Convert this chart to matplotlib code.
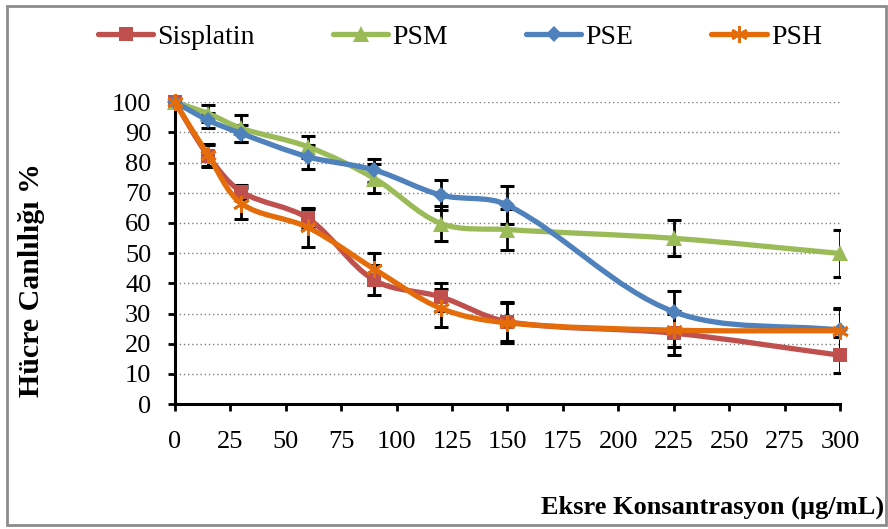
import numpy as np
import matplotlib
matplotlib.use("Agg")
import matplotlib.pyplot as plt
from matplotlib.path import Path
from matplotlib.patches import PathPatch, Rectangle
from matplotlib.lines import Line2D

plt.rcParams['font.family'] = ['Liberation Serif', 'DejaVu Serif']

# concentrations (ug/mL)
doses = [0, 15, 30, 60, 90, 120, 150, 225, 300]

# cell viability (%) and standard deviations
sisplatin = [100, 82.2, 70.3, 61.5, 41.0, 35.5, 27.3, 23.5, 16.2]
sisplatin_err = [0, 3.6, 2.4, 3.1, 5.0, 4.5, 6.5, 7.3, 6.0]
psm = [100, 96.2, 91.3, 85.2, 74.7, 59.8, 57.8, 54.9, 49.9]
psm_err = [0, 2.8, 4.4, 3.7, 4.9, 5.8, 6.8, 6.0, 7.9]
pse = [100, 94.0, 89.6, 81.9, 77.5, 69.2, 65.9, 30.6, 24.5]
pse_err = [0, 2.5, 2.8, 4.0, 3.8, 5.0, 6.2, 7.0, 7.2]
psh = [100, 82.4, 66.4, 58.5, 44.7, 31.7, 26.9, 24.5, 24.3]
psh_err = [0, 3.6, 5.1, 6.4, 5.4, 6.3, 6.6, 5.5, 7.3]

series = [
    ("Sisplatin", sisplatin, sisplatin_err, "#C0504D", "s", 10),
    ("PSM", psm, psm_err, "#9BBB59", "^", 11),
    ("PSE", pse, pse_err, "#4F81BD", "D", 8),
    ("PSH", psh, psh_err, "#E46C0A", (6, 2, 0), 12),
]

yticks = list(range(0, 101, 10))
xticks = list(range(0, 301, 25))


def smooth_path(x, y, sx=2.2, sy=3.0):
    # cubic bezier through the points; tangents scaled by segment length
    pts = np.column_stack([x, y]).astype(float)
    scale = np.array([sx, sy])
    n = len(pts)

    def dist(a, b):
        return np.hypot(*((b - a) * scale))

    verts = [pts[0]]
    codes = [Path.MOVETO]
    for i in range(n - 1):
        p0 = pts[i - 1] if i > 0 else pts[i]
        p1 = pts[i]
        p2 = pts[i + 1]
        p3 = pts[i + 2] if i + 2 < n else pts[i + 1]
        d01, d12, d23 = dist(p0, p1), dist(p1, p2), dist(p2, p3)
        w1 = d12 / (d01 + d12) if d01 + d12 > 0 else 0.5
        w2 = d12 / (d12 + d23) if d12 + d23 > 0 else 0.5
        c1 = p1 + (p2 - p0) * w1 / 3
        c2 = p2 - (p3 - p1) * w2 / 3
        verts += [c1, c2, p2]
        codes += [Path.CURVE4] * 3
    return Path(verts, codes)


fig = plt.figure(figsize=(8.88, 5.29), dpi=100)
ax = fig.add_axes([0.197, 0.236, 0.749, 0.571])

handles = []
for k, (name, vals, err, col, mk, ms) in enumerate(series):
    ax.errorbar(doses, vals, yerr=err, fmt="none", ecolor="black",
                elinewidth=2, capsize=5, capthick=2.2, zorder=3 + k * 0.1)
    ax.add_patch(PathPatch(smooth_path(doses, vals), facecolor="none",
                           edgecolor=col, lw=3.8, capstyle="round",
                           joinstyle="round", zorder=4 + k))
    mew = 2 if mk == (6, 2, 0) else 0
    ax.plot(doses, vals, linestyle="none", marker=mk, ms=ms, color=col,
            mec=col, mew=mew, zorder=4.5 + k, clip_on=False)
    handles.append(Line2D([], [], color=col, lw=3.8, marker=mk, ms=ms,
                          mec=col, mew=mew, solid_capstyle="round"))

ax.set_xlim(0, 300)
ax.set_ylim(0, 100)
ax.set_xticks(xticks)
ax.set_yticks(yticks)
ax.yaxis.grid(True, color="#7f7f7f", linestyle=(0, (1, 2)), lw=1)
ax.set_axisbelow(True)
for s in ["top", "right"]:
    ax.spines[s].set_visible(False)
for s in ["left", "bottom"]:
    ax.spines[s].set_linewidth(2.2)
ax.tick_params(axis="both", width=2, length=5, labelsize=19)
ax.tick_params(axis="x", pad=14)
ax.tick_params(axis="y", pad=12)

ax.set_ylabel("Hücre Canlılığı %", fontsize=21.5, fontweight="bold")
ax.yaxis.set_label_coords(-0.195, 0.41)
fig.text(0.996, 0.03, "Eksre Konsantrasyon (µg/mL)", fontsize=19,
         fontweight="bold", ha="right", va="baseline")

fig.legend(handles, [s[0] for s in series], loc="center", ncol=4,
           bbox_to_anchor=(0.518, 0.93), frameon=False, fontsize=20,
           handlelength=2.0, handletextpad=0.15, columnspacing=2.8)

# outer border
fig.patches.append(Rectangle((0.008, 0.008), 0.99, 0.98, transform=fig.transFigure,
                             fill=False, edgecolor="#8c8c8c", lw=2))

fig.savefig("out.png", dpi=100)
